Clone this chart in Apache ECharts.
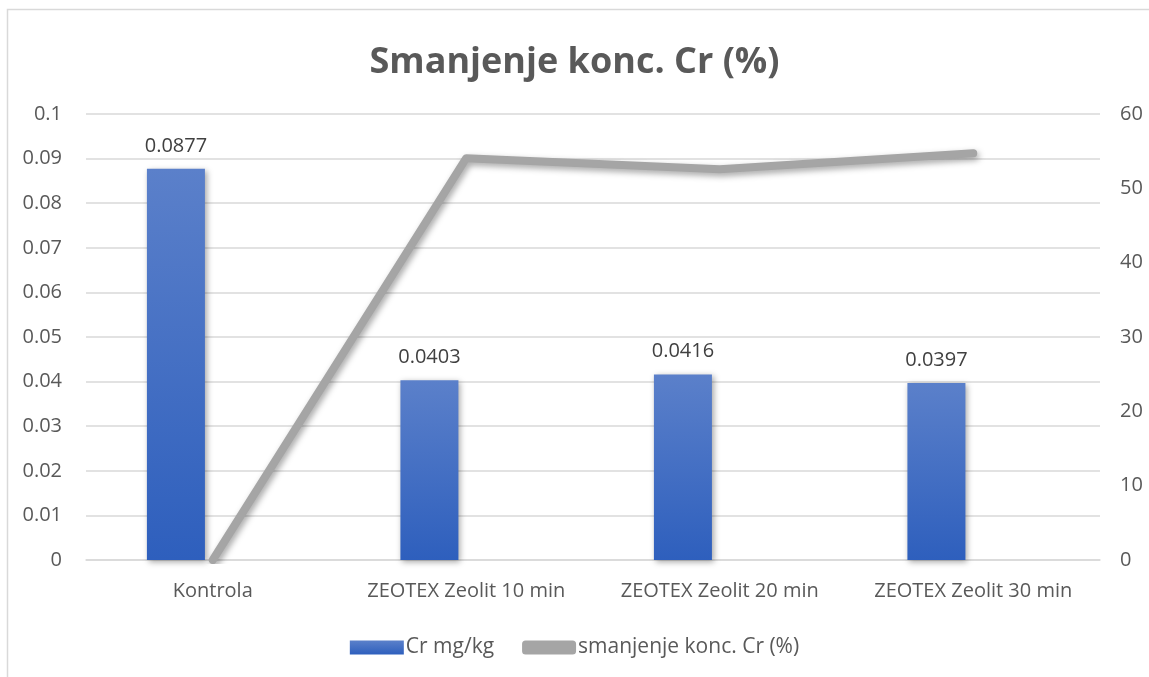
<!DOCTYPE html>
<html>
<head>
<meta charset="utf-8">
<script src="https://cdn.jsdelivr.net/npm/echarts@6/dist/echarts.min.js"></script>
<style>
  html, body { margin: 0; padding: 0; background: #fff; }
  #main { width: 1149px; height: 677px; }
</style>
</head>
<body>
<div id="main"></div>
<script>
var categories = ['Kontrola', 'ZEOTEX Zeolit 10 min', 'ZEOTEX Zeolit 20 min', 'ZEOTEX Zeolit 30 min']
var crValues = [0.0877, 0.0403, 0.0416, 0.0397]
var reductionValues = [0, 54.05, 52.57, 54.73]
var leftTicks = [0, 0.1, 0.01]
var rightTicks = [0, 60, 10]

var font = '"Open Sans", "Noto Sans", sans-serif'
var chart = echarts.init(document.getElementById('main'))

var option = {
  animation: false,
  title: {
    text: 'Smanjenje konc. Cr (%)',
    left: 'center',
    top: 40,
    textStyle: { fontFamily: font, fontSize: 36, fontWeight: 'bold', color: '#595959' }
  },
  graphic: [{
    type: 'rect',
    shape: { x: 7.5, y: 9.5, width: 1200, height: 700 },
    style: { fill: 'none', stroke: '#d9d9d9', lineWidth: 1.5 },
    silent: true
  }],
  legend: {
    data: [
      { name: 'Cr mg/kg', icon: 'rect' },
      { name: 'smanjenje konc. Cr (%)', icon: 'roundRect' }
    ],
    bottom: 14,
    left: 'center',
    itemGap: 28,
    itemWidth: 54,
    itemHeight: 14,
    textStyle: { fontFamily: font, fontSize: 21, color: '#595959', padding: [0, 0, 0, -3] }
  },
  grid: { left: 86, right: 49, top: 114, bottom: 117, containLabel: false },
  xAxis: {
    type: 'category',
    data: categories,
    axisLine: { lineStyle: { color: '#d9d9d9', width: 1.5 } },
    axisTick: { show: false },
    axisLabel: { interval: 0, fontFamily: font, fontSize: 20, color: '#595959', margin: 21 }
  },
  yAxis: [{
    type: 'value',
    min: leftTicks[0], max: leftTicks[1], interval: leftTicks[2],
    axisLine: { show: false },
    axisTick: { show: false },
    splitLine: { lineStyle: { color: '#d9d9d9', width: 1.5 } },
    axisLabel: { fontFamily: font, fontSize: 20, color: '#595959', margin: 24, padding: [6, 0, 0, 0] }
  }, {
    type: 'value',
    min: rightTicks[0], max: rightTicks[1], interval: rightTicks[2],
    axisLine: { show: false },
    axisTick: { show: false },
    splitLine: { show: false },
    axisLabel: { fontFamily: font, fontSize: 20, color: '#595959', margin: 20, padding: [6, 0, 0, 0] }
  }],
  series: [{
    name: 'Cr mg/kg',
    type: 'bar',
    yAxisIndex: 0,
    data: crValues,
    barWidth: 58,
    barGap: '27%',
    itemStyle: {
      color: new echarts.graphic.LinearGradient(0, 0, 0, 1, [
        { offset: 0, color: '#5b80ca' },
        { offset: 1, color: '#2e5fbd' }
      ]),
      shadowColor: 'rgba(0,0,0,0.35)',
      shadowBlur: 6,
      shadowOffsetX: 2,
      shadowOffsetY: 2
    },
    label: {
      show: true,
      position: 'top',
      distance: 13,
      fontFamily: font,
      fontSize: 20,
      color: '#404040'
    }
  }, {
    name: 'spacer',
    type: 'bar',
    yAxisIndex: 0,
    data: [null, null, null, null],
    barWidth: 58
  }, {
    name: 'smanjenje konc. Cr (%)',
    type: 'line',
    yAxisIndex: 1,
    data: reductionValues,
    symbol: 'none',
    z: 5,
    lineStyle: {
      color: '#a5a5a5',
      width: 8,
      cap: 'round',
      join: 'round',
      shadowColor: 'rgba(0,0,0,0.35)',
      shadowBlur: 6,
      shadowOffsetX: 2,
      shadowOffsetY: 3
    },
    itemStyle: { color: '#a5a5a5' }
  }]
}
chart.setOption(option)
</script>
</body>
</html>
